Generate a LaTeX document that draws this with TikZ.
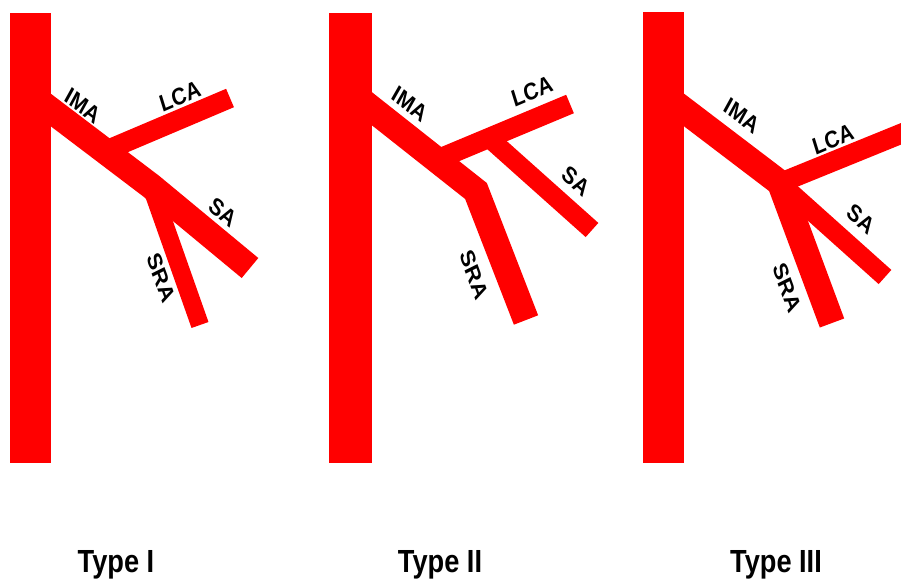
\documentclass[tikz,border=0pt]{standalone}
\usepackage{fontspec}
\setmainfont{Liberation Sans}
\begin{document}
\begin{tikzpicture}[x=1pt,y=-1pt]
\tikzstyle{every node}=[inner sep=0pt, xscale=0.85]
\tikzstyle{vessel}=[draw=red, line join=miter, line cap=butt]
\tikzstyle{lbl}=[font=\fontsize{24}{24}\selectfont\bfseries]
\tikzstyle{ttl}=[font=\fontsize{32}{32}\selectfont\bfseries, anchor=base]
\useasboundingbox (0,0) rectangle (901,581);
\clip (0,0) rectangle (901,581);
% Type I
\fill[red] (10,13) rectangle (51,463);
\coordinate (o1) at (31,95);
\coordinate (j1) at (151,186);
\coordinate (b1) at (105,151);
\coordinate (lca1) at (230,98);
\coordinate (sa1) at (250,268);
\coordinate (sra1) at (200,325);
\draw[vessel, line width=26pt] (o1) -- (j1) -- (sa1);
\draw[vessel, line width=18pt] (j1) -- (sra1);
\draw[vessel, line width=20pt] (b1) -- (lca1);
\node (imaI) [lbl, rotate=-33] at (83,106) {IMA};
\node (lcaI) [lbl, rotate=20] at (180,96) {LCA};
\node (saI) [lbl, rotate=-35.5] at (223,212) {SA};
\node (sraI) [lbl, rotate=-67] at (161,278) {SRA};
\node (typeI) [ttl] at (116,572) {Type I};
% Type II
\fill[red] (329,13) rectangle (372,463);
\coordinate (o2) at (352,93);
\coordinate (j2) at (476,191);
\coordinate (b2) at (436,160);
\coordinate (lca2) at (570,104);
\coordinate (s2) at (489,138);
\coordinate (sa2) at (592,230);
\coordinate (sra2) at (526,320);
\draw[vessel, line width=26pt] (o2) -- (j2) -- (sra2);
\draw[vessel, line width=20pt] (b2) -- (lca2);
\draw[vessel, line width=19pt] (s2) -- (sa2);
\node (imaII) [lbl, rotate=-34] at (410,104) {IMA};
\node (lcaII) [lbl, rotate=20] at (532,91) {LCA};
\node (saII) [lbl, rotate=-37] at (576,181) {SA};
\node (sraII) [lbl, rotate=-67] at (474,275) {SRA};
\node (typeII) [ttl] at (440,572) {Type II};
% Type III
\fill[red] (643,12) rectangle (684,463);
\coordinate (o3) at (663,94);
\coordinate (j3) at (780,183);
\coordinate (lca3) at (930,122);
\coordinate (sa3) at (885,277);
\coordinate (sra3) at (832,323);
\draw[vessel, line width=26pt] (o3) -- (j3) -- (sra3);
\draw[vessel, line width=20pt] (j3) -- (lca3);
\draw[vessel, line width=19pt] (j3) -- (sa3);
\node (imaIII) [lbl, rotate=-33] at (742,116) {IMA};
\node (lcaIII) [lbl, rotate=20] at (833,139) {LCA};
\node (saIII) [lbl, rotate=-36.5] at (861,219) {SA};
\node (sraIII) [lbl, rotate=-67] at (787,288) {SRA};
\node (typeIII) [ttl] at (776,572) {Type III};
\end{tikzpicture}
\end{document}
